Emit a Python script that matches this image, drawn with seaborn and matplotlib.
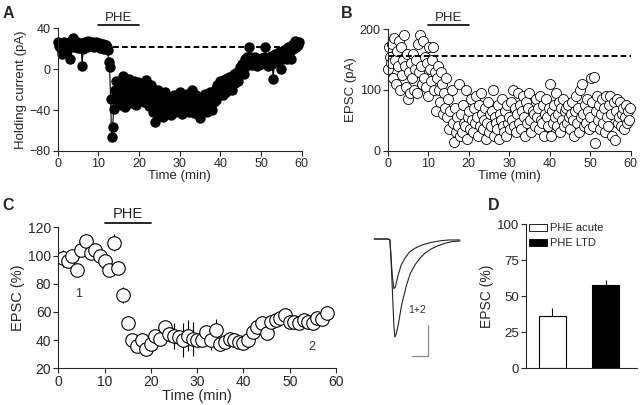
import numpy as np
import pandas as pd
import matplotlib
matplotlib.use('Agg')
import matplotlib.pyplot as plt
import seaborn as sns
from matplotlib.patches import Patch

# style
sns.set_style('ticks')
plt.rcParams['font.family'] = ['Liberation Sans', 'DejaVu Sans']
plt.rcParams['axes.linewidth'] = 0.8
plt.rcParams['xtick.major.width'] = 0.8
plt.rcParams['ytick.major.width'] = 0.8
plt.rcParams['xtick.major.size'] = 3.5
plt.rcParams['ytick.major.size'] = 3.5
plt.rcParams['xtick.direction'] = 'out'
plt.rcParams['ytick.direction'] = 'out'

# ---- data ----
# A: holding current (pA), one sample every 15 s (4 per minute)
a_current = [
    27, 23, 25, 20,   15, 24, 27, 22,   25, 18, 23, 26,   10, 28, 24, 30,
    22, 26, 24, 27,   21, 25, 23, 26,    3, 20, 24, 27,   25, 22, 28, 24,
    26, 23, 27, 25,   22, 25, 27, 23,   24, 26, 21, 25,   23, 25, 20, 24,
    22, 19, 7, 2,    -29, -66, -57, -39, -20, -12, -25, -30, -15, -22, -35, -18,
    -7, -25, -37, -14, -20, -28, -10, -22, -33, -17, -24, -12, -26, -35, -19, -13,
    -22, -30, -15, -25, -18, -32, -24, -11, -27, -20, -36, -23, -15, -30, -42, -25,
    -52, -28, -35, -20, -38, -45, -25, -32, -47, -30, -22, -37, -40, -28, -33, -45,
    -30, -38, -25, -42, -35, -28, -40, -32, -22, -38, -44, -30, -27, -36, -41, -24,
    -34, -42, -28, -38, -20, -36, -43, -31, -25, -39, -30, -44, -48, -33, -27, -40,
    -30, -24, -37, -42, -28, -35, -22, -33, -40, -26, -32, -20, -30, -15, -24, -18,
    -12, -20, -15, -25, -18, -10, -22, -14, -8, -15, -12, -20, -10, -5, -14, -8,
    -3, -12, -6, 2,   -2, 5, 0, -5,    10, 3, 12, 5,    22, 8, 12, 4,
    10, 5, 12, 7,     3, 10, 6, 9,     5, 11, 7, 12,    22, 6, 9, 3,
    11, 7, 13, 5,    -10, 8, 15, 11,   14, 8, 17, 12,   0, 15, 10, 19,
    14, 18, 10, 22,   16, 10, 24, 20,  25, 28, 22, 26,  24, 27,
]
a_time = np.arange(len(a_current)) * 0.25
a_baseline = 22

# B: EPSC amplitude (pA), one sample every 15 s
b_epsc = [
    135, 170, 155, 145, 175, 120, 185, 150, 110, 165, 140, 180, 100, 170, 125, 150,
    190, 140, 105, 160, 85, 130, 95, 145, 120, 160, 100, 135, 150, 95, 175, 130,
    190, 140, 110, 180, 120, 155, 105, 145, 90, 170, 135, 115, 150, 170, 100, 130,
    65, 120, 140, 100, 80, 130, 110, 60, 95, 70, 120, 55, 85, 35, 65, 100,
    45, 15, 70, 30, 55, 40, 110, 25, 60, 30, 75, 45, 40, 100, 20, 55,
    65, 35, 85, 50, 30, 70, 45, 90, 55, 25, 75, 40, 95, 60, 35, 50,
    70, 20, 45, 80, 30, 60, 40, 65, 100, 25, 55, 45, 35, 75, 20, 60,
    50, 85, 40, 30, 65, 25, 75, 45, 55, 35, 80, 50, 100, 40, 70, 30,
    60, 95, 45, 75, 35, 65, 90, 55, 25, 80, 45, 70, 95, 50, 30, 65,
    60, 40, 85, 55, 70, 35, 90, 50, 45, 75, 25, 60, 85, 55, 40, 70,
    110, 25, 65, 45, 75, 55, 95, 40, 60, 80, 30, 70, 50, 85, 40, 65,
    70, 45, 75, 55, 35, 60, 80, 50, 25, 65, 90, 45, 70, 30, 100, 55,
    110, 60, 40, 75, 45, 85, 65, 35, 55, 120, 80, 40, 122, 13, 65, 90,
    50, 75, 35, 60, 85, 45, 70, 30, 90, 55, 40, 75, 90, 60, 25, 80,
    18, 65, 85, 45, 55, 80, 40, 60, 70, 35, 55, 75, 45, 65, 50, 70,
]
b_time = np.arange(len(b_epsc)) * 0.25
b_baseline = 156

# C: normalised EPSC (%), mean and SEM per minute
c_time = list(range(1, 59))
c_mean = [98, 96, 100, 90, 104, 110, 102, 104, 100, 96,
          90, 109, 91, 72, 52, 40, 36, 40, 34, 37,
          43, 41, 49, 44, 43, 42, 40, 43, 41, 40,
          40, 46, 40, 47, 37, 39, 41, 40, 39, 38,
          40, 46, 49, 52, 45, 53, 54, 56, 58, 53,
          53, 52, 54, 53, 52, 56, 55, 59]
c_sem = [6, 5, 4, 4, 3, 3, 4, 3, 3, 4,
         4, 6, 4, 6, 3, 3, 3, 3, 3, 3,
         4, 4, 4, 5, 9, 5, 12, 11, 12, 4,
         4, 5, 7, 8, 5, 4, 4, 4, 4, 3,
         3, 3, 3, 3, 3, 3, 3, 3, 3, 3,
         3, 3, 3, 3, 3, 3, 3, 3]

# example traces (ms, pA)
trace1_t = [0, 9.3, 10.5, 11.1, 12.1, 13.1, 13.8, 14.6, 16.0, 18.3, 21.6, 24.0, 27.1,
            30.5, 33.8, 38.0, 42.7, 47.0, 51.6, 57.2]
trace1_i = [0, 0, -1.6, -25.8, -82, -139, -158, -154, -139, -106, -74, -56, -42,
            -31, -23, -16, -10.8, -7, -4.4, -3.2]
trace2_t = [0, 9.3, 10.5, 11.1, 12.1, 13.1, 14.0, 16.0, 18.0, 20.5, 23.5, 27.1, 32.0,
            38.3, 44.0, 49.4, 57.2]
trace2_i = [0, 0, -1.6, -25.8, -60, -80, -78, -58, -42, -31, -21, -15, -9.5,
            -5.3, -3.0, -1.6, -1.6]

# D: summary
d_groups = ['PHE acute', 'PHE LTD']
d_mean = [36.3, 57.8]
d_sem = [5.4, 3.5]

# ---- figure ----
fig = plt.figure(figsize=(6.4, 4.05), dpi=100)

# A
axA = fig.add_axes([0.0902, 0.6272, 0.3812, 0.3030])
sns.lineplot(x=a_time, y=a_current, ax=axA, color='black', lw=0.8,
             marker='o', markersize=7.5, markeredgewidth=0)
axA.plot([13.6, 60], [a_baseline, a_baseline], ls=(0, (3, 1.6)), color='black', lw=1.4)
axA.set_xlim(0, 60)
axA.set_ylim(-80, 40)
axA.set_xticks(range(0, 61, 10))
axA.set_yticks([-80, -40, 0, 40])
axA.set_xlabel('Time (min)', fontsize=9.5, labelpad=0)
axA.set_ylabel('Holding current (pA)', fontsize=9.5, labelpad=2)
axA.tick_params(labelsize=9, pad=1.5)
axA.plot([10, 20], [43.3, 43.3], color='black', lw=1.2, clip_on=False)
axA.text(15, 44.5, 'PHE', ha='center', va='bottom', fontsize=9.5)
for line in axA.lines:
    line.set_clip_on(False)

# B
axB = fig.add_axes([0.6058, 0.6279, 0.3797, 0.2998])
sns.scatterplot(x=b_time, y=b_epsc, ax=axB, s=52, facecolor='white',
                edgecolor='black', linewidth=0.6)
axB.plot([0, 60], [b_baseline, b_baseline], ls=(0, (3, 1.6)), color='black', lw=1.4)
axB.set_xlim(0, 60)
axB.set_ylim(0, 200)
axB.set_xticks(range(0, 61, 10))
axB.set_yticks([0, 100, 200])
axB.set_xlabel('Time (min)', fontsize=9.5, labelpad=0)
axB.set_ylabel('EPSC (pA)', fontsize=9.5, labelpad=2)
axB.tick_params(labelsize=9, pad=1.5)
axB.plot([10, 20], [207, 207], color='black', lw=1.2, clip_on=False)
axB.text(15, 209, 'PHE', ha='center', va='bottom', fontsize=9.5)
for coll in axB.collections:
    coll.set_clip_on(False)

# C
axC = fig.add_axes([0.0911, 0.0906, 0.4339, 0.3481])
axC.errorbar(c_time, c_mean, yerr=c_sem, fmt='none', ecolor='black',
             elinewidth=0.8, capsize=0, zorder=1)
sns.scatterplot(x=c_time, y=c_mean, ax=axC, s=95, facecolor='white',
                edgecolor='black', linewidth=0.8, zorder=2)
axC.set_xlim(0, 60)
axC.set_ylim(20, 120)
axC.set_xticks(range(0, 61, 10))
axC.set_yticks(range(20, 121, 20))
axC.set_xlabel('Time (min)', fontsize=10.5, labelpad=0)
axC.set_ylabel('EPSC (%)', fontsize=10.5, labelpad=2)
axC.tick_params(labelsize=10, pad=1.5)
axC.plot([10, 20], [122.8, 122.8], color='black', lw=1.2, clip_on=False)
axC.text(15, 124.2, 'PHE', ha='center', va='bottom', fontsize=10.5)
axC.text(4.3, 73, '1', ha='center', va='center', fontsize=9, color='#333333')
axC.text(54.8, 35.4, '2', ha='center', va='center', fontsize=9, color='#333333')

# traces inset
axT = fig.add_axes([0.578, 0.1062, 0.1484, 0.321])
axT.plot(trace1_t, trace1_i, color='#222222', lw=0.8)
axT.plot(trace2_t, trace2_i, color='#222222', lw=0.8)
axT.plot([25.5, 35.7], [-188, -188], color='#888888', lw=0.9)
axT.plot([35.7, 35.7], [-188, -138], color='#888888', lw=0.9)
axT.text(28.3, -114, '1+2', ha='center', va='center', fontsize=7.5, color='#333333')
axT.set_xlim(-2.87, 60.5)
axT.set_ylim(-198.4, 11.3)
axT.axis('off')

# D
axD = fig.add_axes([0.8214, 0.0906, 0.1734, 0.3556])
dfD = pd.DataFrame({'group': d_groups, 'mean': d_mean})
sns.barplot(data=dfD, x='group', y='mean', hue='group', ax=axD,
            palette=['white', 'black'], edgecolor='black', linewidth=0.8,
            width=0.5, errorbar=None, legend=False)
axD.errorbar([0, 1], d_mean, yerr=[[0, 0], d_sem], fmt='none', ecolor='black',
             elinewidth=0.8, capsize=0, zorder=0)
axD.set_xlim(-0.5, 1.58)
axD.set_ylim(0, 100)
axD.set_yticks([0, 25, 50, 75, 100])
axD.set_xticks([])
axD.set_xlabel('')
axD.set_ylabel('EPSC (%)', fontsize=10, labelpad=2)
axD.tick_params(labelsize=9.5, pad=1.5)
handles = [Patch(facecolor='white', edgecolor='black', lw=0.6, label=d_groups[0]),
           Patch(facecolor='black', edgecolor='black', lw=0.6, label=d_groups[1])]
axD.legend(handles=handles, loc='upper left', bbox_to_anchor=(-0.01, 1.04),
           frameon=False, fontsize=8, handlelength=1.6, handleheight=0.6,
           handletextpad=0.3, labelspacing=0.45, borderaxespad=0)

sns.despine(fig=fig)
axD.spines['bottom'].set_visible(True)

# panel letters
for lab, x, y in [('A', 0.004, 0.985), ('B', 0.532, 0.985), ('C', 0.003, 0.512), ('D', 0.763, 0.512)]:
    fig.text(x, y, lab, fontsize=11.5, fontweight='bold', va='top', ha='left')

fig.savefig('out.png', dpi=100)
